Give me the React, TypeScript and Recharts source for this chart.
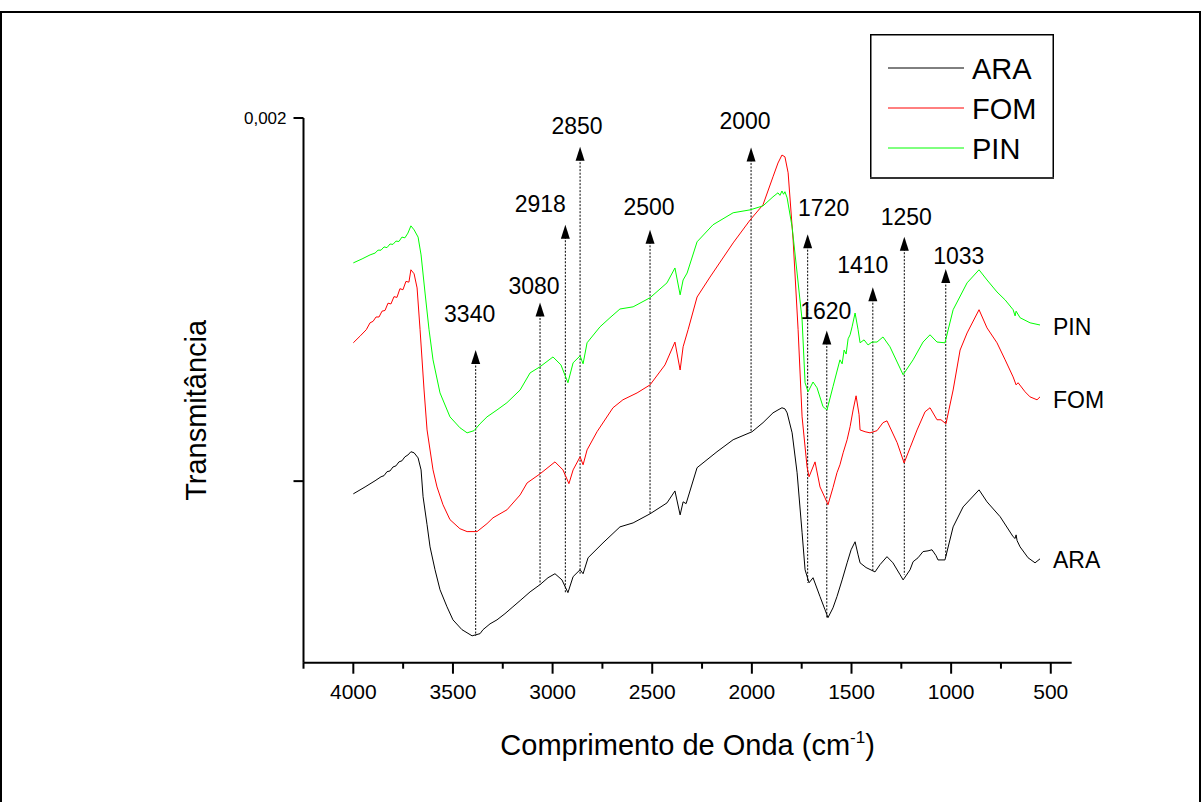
import { LineChart, Line, XAxis, YAxis, ReferenceLine, ReferenceDot, Legend } from "recharts"

const FONT = "'Liberation Sans', Arial, Helvetica, sans-serif"

// wavenumber (cm-1) and transmittance (x10^-3, spectra offset as in the figure)
const araWn = [
  4000, 3941, 3891, 3861, 3846, 3831, 3816, 3801, 3786, 3771, 3756, 3741, 3726, 3711, 3695, 3675, 3660, 3650, 3630,
  3615, 3590, 3565, 3530, 3500, 3455, 3404, 3364, 3349, 3314, 3279, 3239, 3199, 3163, 3113, 3063, 3023, 2988, 2953,
  2923, 2897, 2862, 2847, 2822, 2747, 2662, 2596, 2511, 2426, 2386, 2360, 2345, 2330, 2275, 2175, 2094, 1999, 1944,
  1894, 1869, 1849, 1834, 1823, 1798, 1773, 1748, 1733, 1713, 1693, 1658, 1633, 1618, 1593, 1573, 1547, 1522, 1502,
  1482, 1467, 1457, 1427, 1382, 1357, 1322, 1292, 1256, 1241, 1206, 1191, 1166, 1141, 1116, 1096, 1076, 1066, 1031,
  990, 940, 860, 820, 754, 689, 679, 674, 669, 654, 614, 579, 554,
]
const araT = [
  0.965, 0.984, 1.001, 1.012, 1.015, 1.026, 1.028, 1.039, 1.042, 1.053, 1.056, 1.067, 1.072, 1.081, 1.078, 1.064,
  1.031, 0.957, 0.88, 0.819, 0.756, 0.701, 0.654, 0.618, 0.591, 0.574, 0.58, 0.591, 0.607, 0.618, 0.635, 0.654, 0.671,
  0.695, 0.715, 0.734, 0.745, 0.728, 0.693, 0.737, 0.756, 0.745, 0.789, 0.83, 0.874, 0.885, 0.91, 0.94, 0.973, 0.907,
  0.943, 0.938, 1.037, 1.081, 1.114, 1.136, 1.161, 1.188, 1.196, 1.202, 1.199, 1.188, 1.133, 1.023, 0.858, 0.756,
  0.72, 0.734, 0.682, 0.646, 0.624, 0.651, 0.682, 0.728, 0.775, 0.811, 0.833, 0.797, 0.775, 0.762, 0.75, 0.77, 0.792,
  0.775, 0.742, 0.728, 0.756, 0.778, 0.789, 0.806, 0.808, 0.811, 0.795, 0.783, 0.783, 0.874, 0.929, 0.976, 0.943,
  0.902, 0.847, 0.842, 0.852, 0.836, 0.819, 0.789, 0.775, 0.786,
]

const fomWn = [
  4000, 3965, 3935, 3916, 3901, 3886, 3871, 3856, 3841, 3826, 3811, 3796, 3781, 3766, 3751, 3736, 3721, 3711, 3695,
  3680, 3665, 3645, 3630, 3600, 3580, 3550, 3515, 3465, 3429, 3379, 3329, 3299, 3229, 3163, 3128, 3063, 2988, 2948,
  2918, 2897, 2862, 2847, 2827, 2777, 2697, 2647, 2576, 2511, 2436, 2386, 2360, 2345, 2320, 2275, 2210, 2094, 2009,
  1944, 1894, 1869, 1849, 1834, 1818, 1793, 1768, 1748, 1723, 1713, 1683, 1658, 1633, 1618, 1593, 1573, 1558, 1542,
  1522, 1507, 1492, 1477, 1462, 1457, 1432, 1407, 1372, 1342, 1322, 1271, 1236, 1206, 1171, 1131, 1106, 1071, 1051,
  1026, 990, 955, 920, 860, 820, 770, 729, 689, 674, 664, 629, 604, 569, 554,
]
const fomT = [
  1.381, 1.4, 1.417, 1.436, 1.44, 1.452, 1.452, 1.468, 1.47, 1.49, 1.488, 1.508, 1.506, 1.53, 1.527, 1.55, 1.548,
  1.582, 1.571, 1.532, 1.417, 1.251, 1.141, 1.031, 0.984, 0.935, 0.894, 0.869, 0.861, 0.861, 0.883, 0.899, 0.921,
  0.962, 0.995, 1.02, 1.053, 1.031, 0.993, 1.031, 1.067, 1.045, 1.086, 1.136, 1.202, 1.224, 1.243, 1.265, 1.32, 1.383,
  1.306, 1.37, 1.417, 1.507, 1.562, 1.656, 1.719, 1.761, 1.838, 1.876, 1.898, 1.893, 1.849, 1.664, 1.417, 1.177,
  1.039, 1.012, 1.053, 0.984, 0.954, 0.935, 0.982, 1.023, 1.045, 1.078, 1.114, 1.15, 1.196, 1.235, 1.183, 1.141,
  1.136, 1.133, 1.139, 1.161, 1.166, 1.106, 1.05, 1.092, 1.141, 1.191, 1.202, 1.169, 1.169, 1.158, 1.251, 1.361,
  1.408, 1.472, 1.422, 1.381, 1.334, 1.287, 1.265, 1.271, 1.246, 1.232, 1.224, 1.232,
]

const pinWn = [
  4000, 3956, 3916, 3891, 3876, 3861, 3846, 3831, 3816, 3801, 3786, 3771, 3756, 3741, 3726, 3711, 3695, 3675, 3660,
  3640, 3620, 3600, 3565, 3515, 3465, 3429, 3394, 3364, 3329, 3279, 3229, 3163, 3113, 3063, 2998, 2958, 2923, 2897,
  2862, 2847, 2827, 2762, 2712, 2662, 2596, 2511, 2426, 2386, 2360, 2345, 2325, 2275, 2195, 2094, 2009, 1944, 1894,
  1869, 1859, 1849, 1841, 1834, 1823, 1798, 1773, 1748, 1733, 1718, 1693, 1673, 1643, 1623, 1593, 1558, 1547, 1537,
  1527, 1517, 1507, 1497, 1482, 1467, 1457, 1437, 1417, 1397, 1372, 1342, 1307, 1271, 1241, 1191, 1141, 1106, 1071,
  1031, 990, 920, 860, 820, 770, 729, 689, 679, 674, 654, 604, 554,
]
const pinT = [
  1.601, 1.612, 1.623, 1.628, 1.636, 1.636, 1.645, 1.643, 1.653, 1.652, 1.661, 1.66, 1.672, 1.67, 1.683, 1.703,
  1.692, 1.672, 1.623, 1.518, 1.417, 1.334, 1.243, 1.177, 1.147, 1.133, 1.139, 1.158, 1.177, 1.196, 1.216, 1.251,
  1.298, 1.315, 1.342, 1.32, 1.271, 1.326, 1.345, 1.323, 1.381, 1.425, 1.45, 1.474, 1.48, 1.505, 1.546, 1.587, 1.513,
  1.554, 1.573, 1.659, 1.706, 1.739, 1.747, 1.758, 1.783, 1.794, 1.787, 1.799, 1.79, 1.797, 1.78, 1.7, 1.573, 1.444,
  1.271, 1.246, 1.273, 1.257, 1.205, 1.196, 1.26, 1.334, 1.323, 1.361, 1.35, 1.392, 1.403, 1.425, 1.463, 1.417, 1.381,
  1.389, 1.375, 1.383, 1.383, 1.397, 1.37, 1.328, 1.293, 1.334, 1.383, 1.403, 1.383, 1.381, 1.472, 1.546, 1.582,
  1.554, 1.521, 1.499, 1.472, 1.455, 1.468, 1.45, 1.436, 1.43,
]

const xTicks = [4250, 4000, 3750, 3500, 3250, 3000, 2750, 2500, 2250, 2000, 1750, 1500, 1250, 1000, 750, 500]
const yTicks = [1, 2]

// marked bands: label, arrow position, arrow tip and foot (same units as the spectra)
const peakLabels = ["3340", "3080", "2918", "2850", "2500", "2000", "1720", "1620", "1410", "1250", "1033"]
const peakWn = [3386, 3063, 2936, 2862, 2511, 2004, 1720, 1624, 1393, 1235, 1027]
const peakTop = [1.361, 1.492, 1.706, 1.921, 1.692, 1.919, 1.68, 1.415, 1.534, 1.673, 1.584]
const peakBottom = [0.574, 0.715, 0.693, 0.745, 0.91, 1.136, 0.72, 0.624, 0.75, 0.742, 0.792]
// label placement in px relative to the arrow tip
const peakDx = [-6, -6, -25, -3, -1, -6, 16, -1, -10, 2, 13]
const peakDy = [-28, -8, -13, -13, -15, -18, -18, -11, -14, -12, -5]

const series = [
  { name: "ARA", color: "#000000", data: araWn.map((wn, i) => ({ wn, t: araT[i] })), tagY: 0.783 },
  { name: "FOM", color: "#ff0000", data: fomWn.map((wn, i) => ({ wn, t: fomT[i] })), tagY: 1.224 },
  { name: "PIN", color: "#00ff00", data: pinWn.map((wn, i) => ({ wn, t: pinT[i] })), tagY: 1.426 },
]

function XTick({ x, y, payload }: any) {
  const v = payload.value
  const major = v % 500 === 0
  return (
    <g>
      <line x1={x} y1={y} x2={x} y2={y + (major ? 11 : 6)} stroke="#000" strokeWidth={2} />
      {major && (
        <text x={x} y={y + 36} textAnchor="middle" fontSize={21} fill="#000">
          {v}
        </text>
      )}
    </g>
  )
}

function YTick({ x, y, payload }: any) {
  return (
    <g>
      <line x1={x - 10} y1={y} x2={x} y2={y} stroke="#000" strokeWidth={2} />
      {payload.value === 2 && (
        <text x={x - 17} y={y + 6} textAnchor="end" fontSize={17} fill="#000">
          0,002
        </text>
      )}
    </g>
  )
}

const peakArrow = (i: number) => (p: any) => {
  const x = p.x1
  const top = Math.min(p.y1, p.y2)
  const bottom = Math.max(p.y1, p.y2)
  return (
    <g>
      <line x1={x} y1={top + 12} x2={x} y2={bottom} stroke="#000" strokeWidth={1} strokeDasharray="2 1.5" />
      <path d={`M${x},${top} L${x - 4.5},${top + 14} L${x + 4.5},${top + 14} Z`} fill="#000" />
      <text x={x + peakDx[i]} y={top + peakDy[i]} textAnchor="middle" fontSize={23} fill="#000">
        {peakLabels[i]}
      </text>
    </g>
  )
}

const renderLegend = () => (
  <svg width={184} height={145} style={{ display: "block" }}>
    <rect x={0.75} y={0.75} width={182.5} height={143} fill="#fff" stroke="#000" strokeWidth={1.5} />
    <line x1={0} y1={144} x2={184} y2={144} stroke="#333" strokeWidth={2} />
    {series.map((s, i) => (
      <g key={s.name}>
        <line x1={18} y1={34 + i * 40} x2={94} y2={34 + i * 40} stroke={s.color} strokeWidth={1} />
        <text x={102} y={44.5 + i * 40} fontSize={29} fill="#000">
          {s.name}
        </text>
      </g>
    ))}
  </svg>
)

export default function App() {
  return (
    <div
      style={{
        position: "absolute",
        left: 0,
        top: 0,
        width: 1201,
        height: 802,
        overflow: "hidden",
        background: "#fff",
        fontFamily: FONT,
      }}
    >
      <div
        style={{
          position: "absolute",
          left: 0,
          top: 11,
          width: 1201,
          height: 820,
          boxSizing: "border-box",
          borderTop: "2px solid #000",
          borderLeft: "2px solid #000",
          borderRight: "2px solid #000",
        }}
      />
      <div style={{ position: "absolute", left: 0, top: 0 }}>
        <LineChart width={1201} height={802} margin={{ top: 118, right: 129.3, bottom: 109.3, left: 243.5 }}>
          <XAxis
            dataKey="wn"
            type="number"
            domain={[395, 4250]}
            reversed
            allowDataOverflow
            ticks={xTicks}
            interval={0}
            height={30}
            tickSize={0}
            tickMargin={0}
            tickLine={false}
            tick={<XTick />}
            axisLine={{ stroke: "#000", strokeWidth: 2 }}
            label={{
              content: ({ viewBox }: any) => (
                <text x={viewBox.x + viewBox.width / 2} y={viewBox.y + 92} textAnchor="middle" fontSize={29} fill="#000">
                  Comprimento de Onda (cm
                  <tspan dy={-12} fontSize={17}>
                    -1
                  </tspan>
                  <tspan dy={12} fontSize={29}>
                    )
                  </tspan>
                </text>
              ),
            }}
          />
          <YAxis
            type="number"
            domain={[0.5, 2]}
            allowDataOverflow
            ticks={yTicks}
            width={60}
            tickSize={0}
            tickMargin={0}
            tickLine={false}
            tick={<YTick />}
            axisLine={{ stroke: "#000", strokeWidth: 2 }}
            label={{
              content: ({ viewBox }: any) => (
                <text
                  transform={`translate(${viewBox.x - 47.5},${viewBox.y + viewBox.height / 2 + 20}) rotate(-90)`}
                  textAnchor="middle"
                  dominantBaseline="central"
                  fontSize={29}
                  fill="#000"
                >
                  Transmitância
                </text>
              ),
            }}
          />
          <Legend
            layout="vertical"
            align="center"
            verticalAlign="middle"
            content={renderLegend}
            wrapperStyle={{ position: "absolute", left: 870, top: 34, width: 184, height: 145 }}
          />
          {peakWn.map((wn, i) => (
            <ReferenceLine
              key={peakLabels[i]}
              segment={[
                { x: wn, y: peakBottom[i] },
                { x: wn, y: peakTop[i] },
              ]}
              ifOverflow="visible"
              shape={peakArrow(i)}
            />
          ))}
          {series.map((s) => (
            <Line
              key={s.name}
              data={s.data}
              dataKey="t"
              name={s.name}
              type="linear"
              stroke={s.color}
              strokeWidth={1}
              dot={false}
              activeDot={false}
              isAnimationActive={false}
            />
          ))}
          {series.map((s) => (
            <ReferenceDot
              key={"tag-" + s.name}
              x={489}
              y={s.tagY}
              r={0}
              fill="none"
              stroke="none"
              ifOverflow="visible"
              label={{ value: s.name, position: "right", offset: 0, fontSize: 23, fill: "#000" }}
            />
          ))}
        </LineChart>
      </div>
    </div>
  )
}
